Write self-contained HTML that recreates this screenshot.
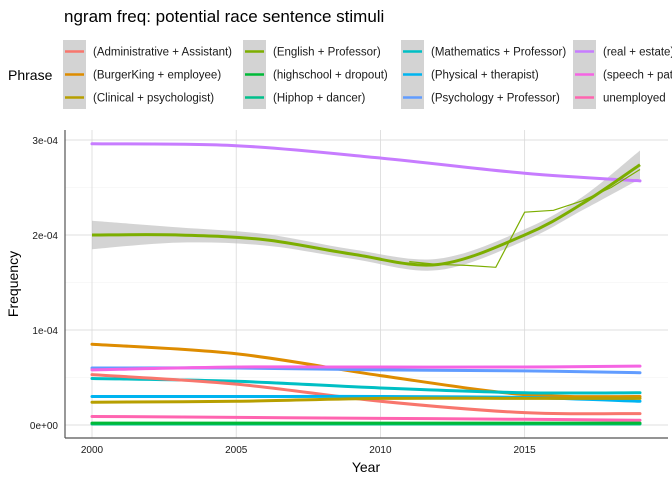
<!DOCTYPE html>
<html><head><meta charset="utf-8"><style>
body{margin:0;background:#fff;font-family:"Liberation Sans",sans-serif}
</style></head><body>
<svg id="c" width="672" height="480" xmlns="http://www.w3.org/2000/svg" font-family="Liberation Sans, sans-serif"></svg>
<script>
const years=[2000,2005,2010,2015,2019];
const seriesNames=["(Administrative + Assistant)","(BurgerKing + employee)","(Clinical + psychologist)","(English + Professor)","(highschool + dropout)","(Hiphop + dancer)","(Mathematics + Professor)","(Physical + therapist)","(Psychology + Professor)","(real + estate)","(speech + pathologist)","unemployed"];
const seriesColors=["#F8766D","#DE8C00","#B79F00","#7CAE00","#00BA38","#00C08B","#00BFC4","#00B4F0","#619CFF","#C77CFF","#F564E3","#FF64B0"];
const vAdmin=[0.53,0.43,0.25,0.13,0.12];
const vBurger=[0.85,0.75,0.52,0.32,0.30];
const vClinical=[0.24,0.25,0.28,0.28,0.28];
const vHigh=[0.02,0.02,0.02,0.02,0.02];
const vHiphop=[0.01,0.01,0.01,0.01,0.01];
const vMath=[0.49,0.46,0.39,0.34,0.34];
const vPhys=[0.30,0.30,0.30,0.29,0.25];
const vPsych=[0.60,0.60,0.58,0.57,0.55];
const vReal=[2.96,2.94,2.81,2.65,2.57];
const vSpeech=[0.58,0.61,0.61,0.61,0.62];
const vUnemp=[0.09,0.08,0.07,0.06,0.05];
const engYears=[2000,2003,2006,2009,2012,2015,2017,2019];
const vEng=[2.00,2.00,1.95,1.80,1.69,2.00,2.33,2.74];
const engBand=[0.15,0.08,0.06,0.05,0.06,0.06,0.07,0.15];
const rawYears=[2011,2012,2013,2014,2015,2016,2017,2018,2019];
const vEngRaw=[1.72,1.69,1.68,1.66,2.24,2.26,2.36,2.50,2.69];
const yTicks=[0,1,2,3];
const yTickLabels=["0e+00","1e-04","2e-04","3e-04"];
const xTicks=[2000,2005,2010,2015];
const NS="http://www.w3.org/2000/svg";
const svg=document.getElementById('c');
const X=y=>92+(y-2000)*(548/19);
const Y=v=>425-v*95;
function el(t,a,p){const e=document.createElementNS(NS,t);for(const k in a)e.setAttribute(k,a[k]);(p||svg).appendChild(e);return e;}
function smooth(xs,vs){const p=xs.map((x,i)=>[X(x),Y(vs[i])]);let d=`M${p[0][0]},${p[0][1]}`;
for(let i=0;i<p.length-1;i++){const p0=p[i-1]||p[i],p1=p[i],p2=p[i+1],p3=p[i+2]||p2;
d+=`C${p1[0]+(p2[0]-p0[0])/6},${p1[1]+(p2[1]-p0[1])/6} ${p2[0]-(p3[0]-p1[0])/6},${p2[1]-(p3[1]-p1[1])/6} ${p2[0]},${p2[1]}`;}return d;}
let t=el('text',{x:64,y:22,'font-size':17,fill:'#000'});t.textContent="ngram freq: potential race sentence stimuli";

t=el('text',{x:8,y:80,'font-size':14,fill:'#000'});t.textContent="Phrase";

const colX=[63,243,401,573];
seriesNames.forEach((n,i)=>{const c=Math.floor(i/3),r=i%3;const x=colX[c],y=40+r*23;
const g=el('g',{});
el('rect',{x:x,y:y,width:23,height:23,fill:'#d3d3d3'},g);
el('line',{x1:x+2,x2:x+21,y1:y+11.5,y2:y+11.5,stroke:seriesColors[i],'stroke-width':2.5},g);
const tt=el('text',{x:x+30,y:y+15.5,'font-size':11.5,fill:'#1a1a1a'},g);tt.textContent=n;});
yTicks.forEach((v,i)=>{const gl=el('line',{x1:65,x2:668,y1:Y(v),y2:Y(v),stroke:'#e5e5e5','stroke-width':1.2});

const tl=el('text',{x:58,y:Y(v)+4,'font-size':10,fill:'#1a1a1a','text-anchor':'end'});tl.textContent=yTickLabels[i];
});
[0.5,1.5,2.5].forEach(v=>el('line',{x1:65,x2:668,y1:Y(v),y2:Y(v),stroke:'#f2f2f2','stroke-width':0.6}));
xTicks.forEach(v=>{const gl=el('line',{x1:X(v),x2:X(v),y1:130,y2:438,stroke:'#d9d9d9','stroke-width':0.8});

const tl=el('text',{x:X(v),y:453,'font-size':10,fill:'#1a1a1a','text-anchor':'middle'});tl.textContent=v;
});
const up=engYears.map((y,i)=>vEng[i]+engBand[i]),lo=engYears.map((y,i)=>vEng[i]-engBand[i]);
const dUp=smooth(engYears,up);const loR=smooth(engYears.slice().reverse(),lo.slice().reverse());
const band=el('path',{d:dUp+'L'+loR.slice(1),fill:'#bdbdbd','fill-opacity':0.65});

const all=[vAdmin,vBurger,vClinical,null,vHigh,vHiphop,vMath,vPhys,vPsych,vReal,vSpeech,vUnemp];
const order=[9,1,8,10,6,0,7,2,11,5,4];
order.forEach(i=>{const p=el('path',{d:smooth(years,all[i]),fill:'none',stroke:seriesColors[i],'stroke-width':3,'stroke-linecap':'round'});
});
const raw=el('path',{d:rawYears.map((y,i)=>(i?'L':'M')+X(y)+','+Y(vEngRaw[i])).join(''),fill:'none',stroke:'#7CAE00','stroke-width':1.2});

const eng=el('path',{d:smooth(engYears,vEng),fill:'none',stroke:'#7CAE00','stroke-width':3});

let a=el('line',{x1:65,x2:65,y1:130,y2:438,stroke:'#555','stroke-width':1.2});
a=el('line',{x1:65,x2:668,y1:438,y2:438,stroke:'#555','stroke-width':1.2});
t=el('text',{x:366,y:472,'font-size':14,fill:'#000','text-anchor':'middle'});t.textContent="Year";

t=el('text',{x:18,y:284,'font-size':14,fill:'#000','text-anchor':'middle',transform:'rotate(-90 18 284)'});t.textContent="Frequency";

</script>
</body></html>
